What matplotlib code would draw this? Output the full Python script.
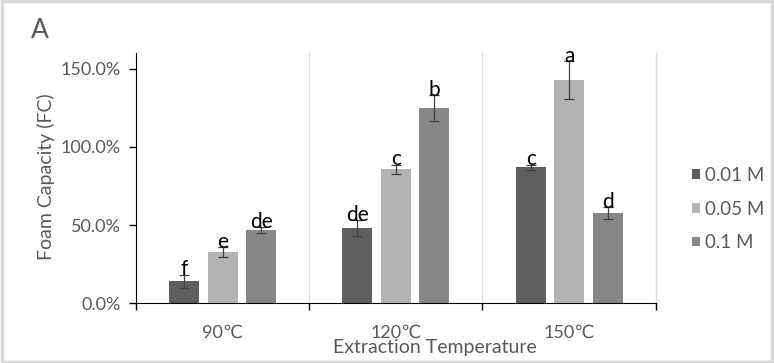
import matplotlib
matplotlib.use("Agg")
import matplotlib.pyplot as plt
from matplotlib.patches import Rectangle, Patch
import numpy as np

plt.rcParams['font.family'] = ['Lato', 'DejaVu Sans']

# data
temps = ['90\u2103', '120\u2103', '150\u2103']
series = ['0.01 M', '0.05 M', '0.1 M']
fc_001 = [0.142, 0.481, 0.870]
fc_005 = [0.327, 0.857, 1.425]
fc_01 = [0.468, 1.247, 0.576]
err_001 = [0.042, 0.049, 0.017]
err_005 = [0.032, 0.029, 0.122]
err_01 = [0.018, 0.082, 0.037]
lab_001 = ['f', 'de', 'c']
lab_005 = ['e', 'c', 'a']
lab_01 = ['de', 'b', 'd']

colors = ['#5e5e5e', '#b3b3b3', '#878787']
grey_txt = '#595959'

fig = plt.figure(figsize=(7.74, 3.63), dpi=100)
fig.patches.append(Rectangle((0.002, 0.003), 0.996, 0.994, transform=fig.transFigure,
                             fill=False, edgecolor='#d9d9d9', lw=2.5))
ax = fig.add_axes([0.1757, 0.1645, 0.6715, 0.6895])

x = np.arange(len(temps))
offsets = [-0.222, 0.0, 0.222]
width = 0.173
vals = [fc_001, fc_005, fc_01]
errs = [err_001, err_005, err_01]
labs = [lab_001, lab_005, lab_01]

for i in range(3):
    ax.bar(x + offsets[i], vals[i], width, color=colors[i], zorder=2)
    ax.errorbar(x + offsets[i], vals[i], yerr=errs[i], fmt='none', ecolor='#404040',
                elinewidth=0.9, capsize=3.6, capthick=0.9, zorder=3)
    for xi, v, e, t in zip(x + offsets[i], vals[i], errs[i], labs[i]):
        ax.text(xi, v + e - 0.005, t, ha='center', va='baseline', fontsize=15, color='black', zorder=4)

ax.set_xlim(-0.5, 2.5)
ax.set_ylim(0, 1.6)
for b in [0.5, 1.5, 2.5]:
    ax.axvline(b, color='#d9d9d9', lw=1, zorder=1, clip_on=False)

ax.set_xticks(x)
ax.set_xticklabels(temps)
ax.set_xticks([-0.5, 0.5, 1.5, 2.5], minor=True)
ax.tick_params(axis='x', which='major', length=0, pad=15.5, labelsize=13, labelcolor=grey_txt)
ax.tick_params(axis='x', which='minor', length=5, width=1, color='black', direction='out')

ax.set_yticks([0, 0.5, 1.0, 1.5])
ax.set_yticklabels(['{:.1%}'.format(v) for v in [0, 0.5, 1.0, 1.5]])
ax.tick_params(axis='y', length=5, width=1, color='black', pad=6, labelsize=13, labelcolor=grey_txt)

ax.spines['top'].set_visible(False)
ax.spines['right'].set_visible(False)
ax.spines['left'].set_color('black')
ax.spines['bottom'].set_color('black')

fig.text(46 / 774, 1 - 177 / 363, 'Foam Capacity (FC)', rotation=90, ha='center', va='center',
         fontsize=14, color=grey_txt)
fig.text(435 / 774, 1 - 347 / 363, 'Extraction Temperature', ha='center', va='center',
         fontsize=14, color=grey_txt)
fig.text(31 / 774, 1 - 31 / 363, 'A', ha='left', va='center', fontsize=19, color=grey_txt)

handles = [Patch(facecolor=c, edgecolor='none') for c in colors]
leg = fig.legend(handles, series, loc='center left', bbox_to_anchor=(683 / 774, 1 - 209 / 363),
                 frameon=False, fontsize=13.5, handlelength=0.4, handleheight=0.4,
                 handletextpad=0.25, labelspacing=0.9, borderpad=0)
for t in leg.get_texts():
    t.set_color(grey_txt)

fig.savefig('out.png', dpi=100)
